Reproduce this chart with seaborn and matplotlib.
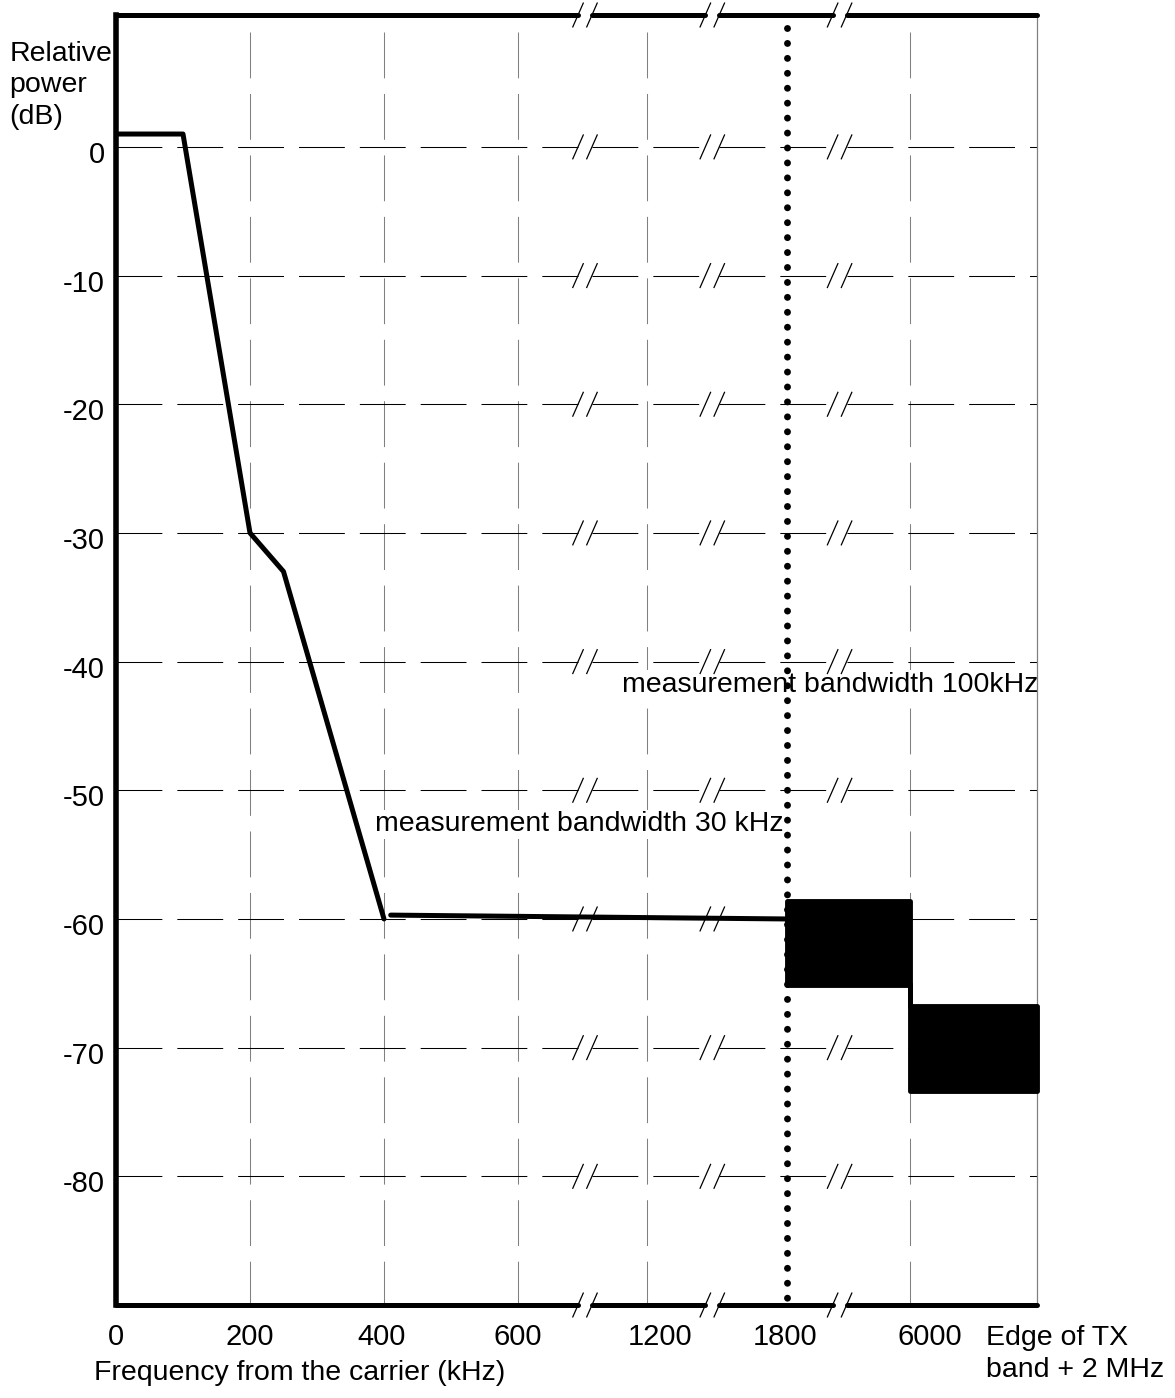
"""
Spectrum mask: relative power vs frequency offset from the carrier
"""
import numpy as np
import matplotlib
matplotlib.use("Agg")
import matplotlib.pyplot as plt
import matplotlib.transforms as mtransforms
from matplotlib.collections import LineCollection
import seaborn as sns

# ---- values ----
EDGE = 8000  # stand-in for "edge of TX band + 2 MHz"

mask_freq = [0, 100, 200, 250, 400]
mask_db = [1, 1, -30, -33, -60]

floor_freq = [410, 1800]
floor_db = [-59.7, -60]

band_freq = [1800, 6000, EDGE]
band_top = [-58.6, -66.8, -66.8]
band_bottom = [-65.1, -73.4, -73.4]

grid_freq = [200, 400, 600, 1200, 6000]
grid_db = [0, -10, -20, -30, -40, -50, -60, -70, -80]
split_freq = 1800  # dotted line between the two measurement bandwidths

x_tick_labels = ["0", "200", "400", "600", "1200", "1800", "6000"]
y_tick_labels = ["0", "-10", "-20", "-30", "-40", "-50", "-60", "-70", "-80"]

# ---- broken axis layout ----
KNOT_FREQ = [0, 600, 1200, 1800, 6000, EDGE]
KNOT_POS = [0, 3, 3.963, 5.007, 5.925, 6.873]
X_TICK_POS = [0, 1, 1.985, 3, 4.06, 4.99, 6.07]
BREAKS = [3.50, 4.45, 5.40]
HALF_GAP = 0.052
SLASH_DX, SLASH_DY = 0.041, 0.97
Y_TOP, Y_BOT = 10.25, -90
X_MAX = 6.9
FS = 20.5


def xpos(f):
    return np.interp(f, KNOT_FREQ, KNOT_POS)


sns.set_theme(style="white")
plt.rcParams["font.family"] = ["Liberation Sans", "DejaVu Sans"]
plt.rcParams["text.color"] = "black"
plt.rcParams["axes.labelcolor"] = "black"

fig = plt.figure(figsize=(11.75, 13.98), dpi=100)
ax = fig.add_axes([116 / 1175, 93 / 1398, X_MAX * 134 / 1175, 1290 / 1398])
ax.set_xlim(0, X_MAX)
ax.set_ylim(Y_BOT, Y_TOP)

for side in ["top", "bottom", "right"]:
    ax.spines[side].set_visible(False)
ax.spines["left"].set_linewidth(4)
ax.spines["left"].set_color("black")

# vertical grid (gray, long dashes, from the top down); right edge solid
ax.vlines(xpos(grid_freq), 8.9, Y_BOT, colors="#808080",
          linestyles=(0, (44, 15)), linewidth=0.75, zorder=1)
ax.vlines(xpos(EDGE), Y_TOP, Y_BOT, colors="#808080", linewidth=0.9,
          zorder=3.5)

# horizontal grid, cut at the axis breaks
starts = [0] + [b + HALF_GAP for b in BREAKS]
ends = [b - HALF_GAP for b in BREAKS] + [xpos(EDGE)]
hy, hx0, hx1 = [], [], []
for y in grid_db:
    for s, e in zip(starts, ends):
        hy.append(y)
        hx0.append(s)
        hx1.append(e)
ax.hlines(hy, hx0, hx1, colors="black", linestyles=(0, (44, 14.4)),
          linewidth=0.75, zorder=1)

# thick top and bottom frame, also broken
fy, fx0, fx1 = [], [], []
for y in [Y_TOP, Y_BOT]:
    for s, e in zip(starts, ends):
        fy.append(y)
        fx0.append(s)
        fx1.append(e)
frame = ax.hlines(fy, fx0, fx1, colors="black", linewidth=3.6,
                  clip_on=False, zorder=6)
frame.set_capstyle("round")

# "//" break marks on every row
slashes = []
for y in grid_db + [Y_TOP, Y_BOT]:
    for b in BREAKS:
        for c in (b - HALF_GAP, b + HALF_GAP):
            slashes.append([(c - SLASH_DX, y - SLASH_DY), (c + SLASH_DX, y + SLASH_DY)])
ax.add_collection(LineCollection(slashes, colors="black", linewidths=0.9,
                                 clip_on=False, zorder=6))

# texts with white boxes over the grid
box = dict(facecolor="white", edgecolor="none", pad=1)
ax.text(1.933, -53.2, "measurement bandwidth 30 kHz", fontsize=FS,
        ha="left", va="baseline", bbox=box, zorder=3)
ax.text(3.776, -42.35, "measurement bandwidth 100kHz", fontsize=FS,
        ha="left", va="baseline", bbox=box, zorder=3)

# dotted split line
sx = float(xpos(split_freq))
ax.plot([sx, sx], [9.25, Y_BOT], color="black", linewidth=5,
        linestyle=(0, (0.001, 2.15)), dash_capstyle="round",
        clip_on=False, zorder=4)

# mask curve
sns.lineplot(x=xpos(mask_freq), y=mask_db, sort=False, color="black",
             linewidth=3.6, ax=ax, zorder=5)
sns.lineplot(x=xpos(floor_freq), y=floor_db, sort=False, color="black",
             linewidth=3.6, ax=ax, zorder=5)
ax.fill_between(xpos(band_freq), band_bottom, band_top, step="post",
                facecolor="black", edgecolor="black", linewidth=3.5,
                joinstyle="round", zorder=5)

# ticks and labels
ax.set_xticks(X_TICK_POS, x_tick_labels)
ax.set_yticks(grid_db, y_tick_labels)
ax.tick_params(axis="x", length=0, pad=13, labelsize=21, colors="black")
ax.tick_params(axis="y", length=0, pad=8, labelsize=21, colors="black")
shift = mtransforms.ScaledTranslation(0, -0.05, fig.dpi_scale_trans)
for lab in ax.get_yticklabels():
    lab.set_transform(lab.get_transform() + shift)

ax.set_ylabel("Relative\npower\n(dB)", rotation=0, fontsize=FS,
              ha="left", va="top", linespacing=1.28)
ax.yaxis.set_label_coords(-0.115, 0.98)
ax.set_xlabel("Frequency from the carrier (kHz)", fontsize=FS,
              ha="left", va="baseline")
ax.xaxis.set_label_coords(-0.024, -0.058)

ax.text(0.941, -0.0155, "Edge of TX\nband + 2 MHz", transform=ax.transAxes,
        fontsize=FS, ha="left", va="top", linespacing=1.28)

fig.savefig("out.png", dpi=100)
